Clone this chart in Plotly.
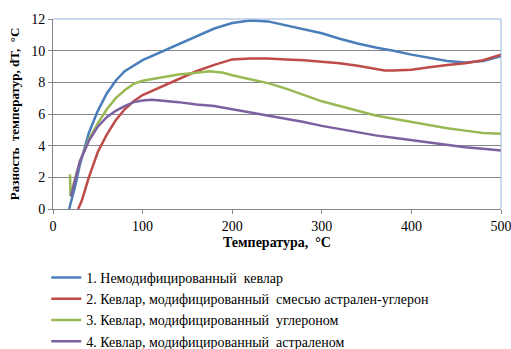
import plotly.graph_objects as go

names = [
    "1. Немодифицированный\u00a0 кевлар",
    "2. Кевлар, модифицированный\u00a0 смесью астрален-углерон",
    "3. Кевлар, модифицированный\u00a0 углероном",
    "4. Кевлар, модифицированный\u00a0 астраленом",
]
colors = ["#4a7ebb", "#be4b48", "#98b954", "#7d60a0"]

x1 = [18, 25, 30, 40, 50, 60, 70, 80, 100, 120, 140, 160, 180, 200, 220, 240, 260, 280, 300, 320, 340, 360, 380, 400, 420, 440, 460, 480, 500]
y1 = [0, 1.5, 2.8, 4.8, 6.2, 7.3, 8.1, 8.7, 9.4, 9.9, 10.4, 10.9, 11.4, 11.75, 11.9, 11.85, 11.6, 11.35, 11.1, 10.75, 10.45, 10.2, 10.0, 9.75, 9.55, 9.35, 9.25, 9.35, 9.65]

x2 = [28, 32, 40, 50, 60, 70, 80, 90, 100, 120, 140, 160, 180, 200, 220, 240, 260, 280, 300, 320, 340, 360, 370, 380, 400, 420, 440, 460, 480, 500]
y2 = [0, 0.5, 2.0, 3.6, 4.7, 5.6, 6.3, 6.8, 7.2, 7.7, 8.2, 8.7, 9.1, 9.45, 9.5, 9.5, 9.45, 9.4, 9.3, 9.2, 9.05, 8.85, 8.75, 8.75, 8.8, 8.95, 9.1, 9.2, 9.4, 9.75]

x3 = [19, 19.5, 25, 30, 40, 50, 60, 70, 80, 90, 100, 120, 140, 160, 175, 190, 200, 220, 240, 260, 280, 300, 320, 340, 360, 380, 400, 420, 440, 460, 480, 500]
y3 = [2.2, 0.8, 2.0, 3.0, 4.4, 5.4, 6.3, 7.0, 7.5, 7.9, 8.1, 8.3, 8.5, 8.6, 8.7, 8.6, 8.45, 8.2, 7.95, 7.6, 7.2, 6.8, 6.5, 6.2, 5.9, 5.7, 5.5, 5.3, 5.1, 4.95, 4.8, 4.75]

x4 = [20, 25, 30, 40, 50, 60, 70, 80, 90, 100, 110, 120, 140, 160, 180, 200, 220, 240, 260, 280, 300, 320, 340, 360, 380, 400, 420, 440, 460, 480, 500]
y4 = [0.8, 2.0, 3.0, 4.3, 5.2, 5.8, 6.2, 6.5, 6.75, 6.85, 6.9, 6.85, 6.75, 6.6, 6.5, 6.3, 6.1, 5.9, 5.7, 5.5, 5.25, 5.05, 4.85, 4.65, 4.5, 4.35, 4.2, 4.05, 3.9, 3.8, 3.7]

xs = [x1, x2, x3, x4]
ys = [y1, y2, y3, y4]

fig = go.Figure()
for n, c, x, y in zip(names, colors, xs, ys):
    fig.add_trace(go.Scatter(x=x, y=y, mode="lines", name=n,
                             line=dict(color=c, width=2.5)))

font = "Times New Roman, serif"
fig.update_layout(
    width=511, height=349,
    margin=dict(l=53, r=10, t=19, b=140, autoexpand=False),
    paper_bgcolor="white", plot_bgcolor="white",
    font=dict(family=font, size=13, color="#000"),
    showlegend=True,
    legend=dict(x=-0.015, y=-0.279, xanchor="left", yanchor="top",
                font=dict(family=font, size=14, color="#000"),
                bgcolor="rgba(0,0,0,0)", itemwidth=30, tracegroupgap=0),
    xaxis=dict(range=[0, 500], dtick=100, showgrid=False,
               showline=True, linecolor="#868686", linewidth=1,
               ticks="outside", ticklen=4, tickcolor="#868686",
               ticklabeloverflow="allow",
               tickfont=dict(family=font, size=14), mirror=False, zeroline=False,
               title=dict(text="<b>Температура,\u00a0 °C</b>", font=dict(family=font, size=14), standoff=4)),
    yaxis=dict(range=[0, 12], dtick=2, showgrid=True, gridcolor="#868686", gridwidth=1,
               showline=True, linecolor="#868686", linewidth=1,
               ticks="outside", ticklen=4, tickcolor="#868686",
               tickfont=dict(family=font, size=14), zeroline=False,
               title=dict(text="<b>Разность\u00a0 температур, dT,\u00a0 °C</b>", font=dict(family=font, size=13), standoff=8)),
)
fig.add_shape(type="line", xref="paper", yref="paper", x0=0, x1=1, y0=1, y1=1,
              line=dict(color="#95b3d7", width=1))
fig.add_shape(type="line", xref="paper", yref="paper", x0=1, x1=1, y0=0, y1=1,
              line=dict(color="#95b3d7", width=1))

fig.write_html("out.html")
